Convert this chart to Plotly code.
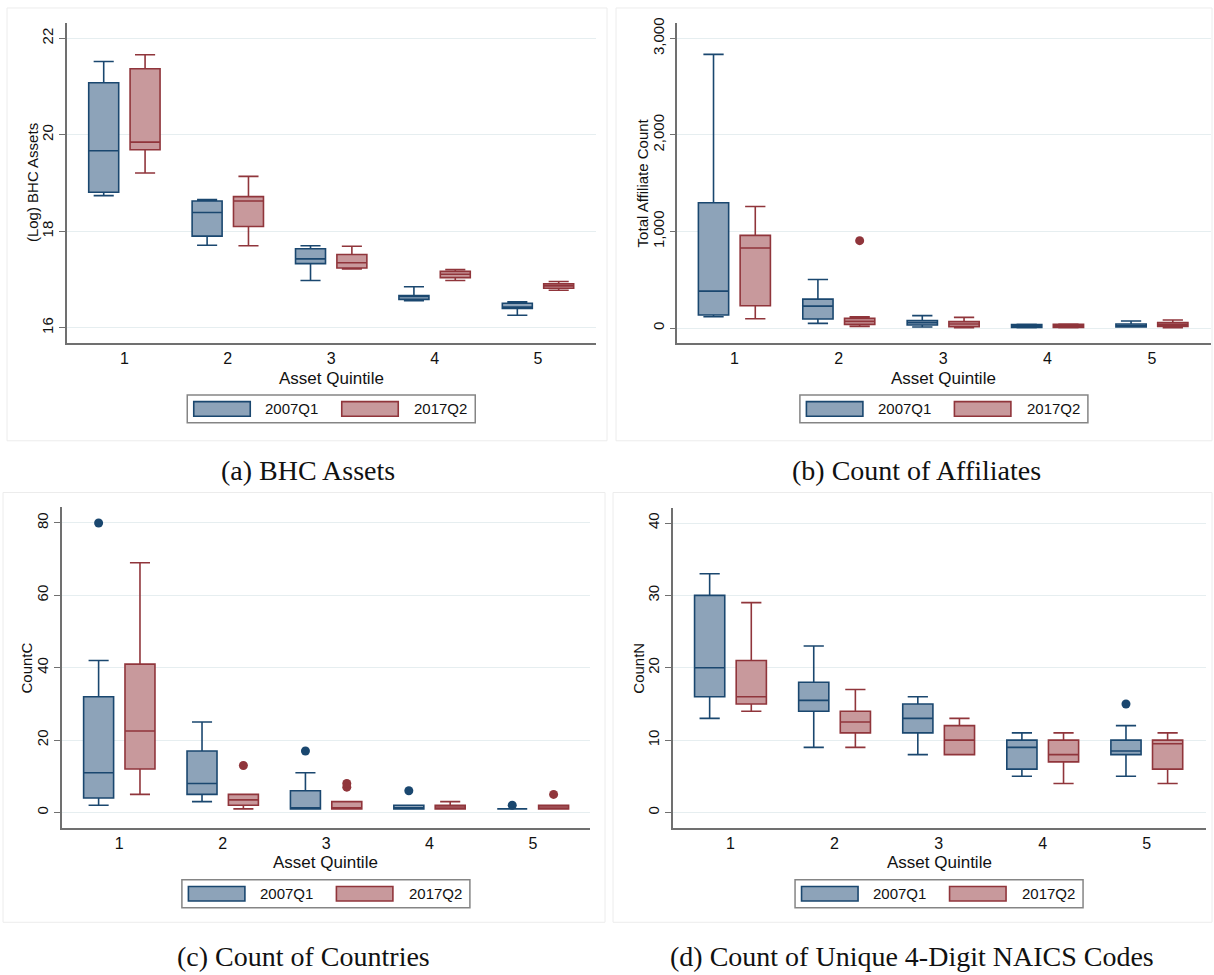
import plotly.graph_objects as go

# ---------------- data ----------------
quintiles = [1, 2, 3, 4, 5]
series_names = ["2007Q1", "2017Q2"]

# (a) (Log) BHC Assets
a07_lo = [18.74, 17.71, 16.98, 16.56, 16.26]
a07_q1 = [18.81, 17.90, 17.33, 16.59, 16.40]
a07_med = [19.67, 18.39, 17.43, 16.65, 16.43]
a07_q3 = [21.08, 18.63, 17.64, 16.67, 16.51]
a07_hi = [21.52, 18.66, 17.70, 16.85, 16.54]
a17_lo = [19.21, 17.70, 17.22, 16.98, 16.78]
a17_q1 = [19.69, 18.10, 17.24, 17.04, 16.82]
a17_med = [19.85, 18.63, 17.35, 17.11, 16.87]
a17_q3 = [21.37, 18.72, 17.52, 17.17, 16.91]
a17_hi = [21.66, 19.14, 17.69, 17.21, 16.96]
a07_out_q, a07_out_v = [], []
a17_out_q, a17_out_v = [], []

# (b) Total Affiliate Count
b07_lo = [117, 48, 10, 3, 10]
b07_q1 = [134, 93, 31, 7, 10]
b07_med = [382, 227, 55, 21, 24]
b07_q3 = [1297, 299, 76, 35, 41]
b07_hi = [2835, 502, 128, 38, 72]
b17_lo = [96, 17, 3, 3, 4]
b17_q1 = [230, 38, 14, 5, 17]
b17_med = [829, 69, 41, 21, 35]
b17_q3 = [960, 100, 66, 38, 56]
b17_hi = [1259, 117, 110, 40, 83]
b07_out_q, b07_out_v = [], []
b17_out_q, b17_out_v = [2], [905]

# (c) CountC
c07_lo = [2, 3, 1, 1, 1]
c07_q1 = [4, 5, 1, 1, 1]
c07_med = [11, 8, 1, 1, 1]
c07_q3 = [32, 17, 6, 2, 1]
c07_hi = [42, 25, 11, 2, 1]
c17_lo = [5, 1, 1, 1, 1]
c17_q1 = [12, 2, 1, 1, 1]
c17_med = [22.5, 3.5, 1, 1.5, 1.5]
c17_q3 = [41, 5, 3, 2, 2]
c17_hi = [69, 5, 3, 3, 2]
c07_out_q, c07_out_v = [1, 3, 4, 5], [80, 17, 6, 2]
c17_out_q, c17_out_v = [2, 3, 3, 5], [13, 7, 8, 5]

# (d) CountN
d07_lo = [13, 9, 8, 5, 5]
d07_q1 = [16, 14, 11, 6, 8]
d07_med = [20, 15.5, 13, 9, 8.5]
d07_q3 = [30, 18, 15, 10, 10]
d07_hi = [33, 23, 16, 11, 12]
d17_lo = [14, 9, 8, 4, 4]
d17_q1 = [15, 11, 8, 7, 6]
d17_med = [16, 12.5, 10, 8, 9.5]
d17_q3 = [21, 14, 12, 10, 10]
d17_hi = [29, 17, 13, 11, 11]
d07_out_q, d07_out_v = [5], [15]
d17_out_q, d17_out_v = [], []

y_titles = ["(Log) BHC Assets", "Total Affiliate Count", "CountC", "CountN"]
y_ticks = [[16, 18, 20, 22], [0, 1000, 2000, 3000], [0, 20, 40, 60, 80], [0, 10, 20, 30, 40]]
x_title = "Asset Quintile"
captions = ["(a) BHC Assets", "(b) Count of Affiliates", "(c) Count of Countries",
            "(d) Count of Unique 4-Digit NAICS Codes"]

# ---------------- styling / layout ----------------
W, H = 1214, 975
LINE = ["#1a476f", "#90353b"]
FILL = ["#8da3b9", "#c8999c"]
GRID = "#e6eef0"
AXC = "#707070"
FONT = "Liberation Sans, Arial, sans-serif"
SERIF = "Liberation Serif, Times New Roman, serif"

def px(x):
    return x / W

def py(y):
    return 1 - y / H

# plot areas in pixels: (left, right, top, bottom), x range, y range
panels = [
    dict(box=(67.0, 595.5, 18.0, 340.0), xr=[0.445, 5.556], yr=[15.68, 22.32],
         s07=(a07_lo, a07_q1, a07_med, a07_q3, a07_hi), s17=(a17_lo, a17_q1, a17_med, a17_q3, a17_hi),
         o07=(a07_out_q, a07_out_v), o17=(a17_out_q, a17_out_v), fmt="", frame=(7, 607, 3, 438),
         cap=(307.5, 468)),
    dict(box=(677.3, 1210.5, 18.0, 340.0), xr=[0.453, 5.561], yr=[-158, 3161],
         s07=(b07_lo, b07_q1, b07_med, b07_q3, b07_hi), s17=(b17_lo, b17_q1, b17_med, b17_q3, b17_hi),
         o07=(b07_out_q, b07_out_v), o17=(b17_out_q, b17_out_v), fmt=",", frame=(616, 1212, 3, 438),
         cap=(916.5, 468)),
    dict(box=(61.8, 590.0, 505.0, 827.3), xr=[0.444, 5.552], yr=[-4.3, 84.3],
         s07=(c07_lo, c07_q1, c07_med, c07_q3, c07_hi), s17=(c17_lo, c17_q1, c17_med, c17_q3, c17_hi),
         o07=(c07_out_q, c07_out_v), o17=(c17_out_q, c17_out_v), fmt="", frame=(3, 605, 490, 922),
         cap=(303, 956)),
    dict(box=(672.6, 1205.5, 505.7, 827.3), xr=[0.444, 5.564], yr=[-2.15, 42.06],
         s07=(d07_lo, d07_q1, d07_med, d07_q3, d07_hi), s17=(d17_lo, d17_q1, d17_med, d17_q3, d17_hi),
         o07=(d07_out_q, d07_out_v), o17=(d17_out_q, d17_out_v), fmt="", frame=(613, 1212, 490, 922),
         cap=(911.5, 956)),
]

OFFSET = 0.2
BOXW = 0.29

fig = go.Figure()
layout = dict(width=W, height=H, margin=dict(l=0, r=0, t=0, b=0),
              paper_bgcolor="white", plot_bgcolor="white", showlegend=False,
              boxmode="overlay", font=dict(family=FONT, color="#111111"))
shapes, annotations = [], []

for i, p in enumerate(panels):
    k = "" if i == 0 else str(i + 1)
    xa, ya = "x" + k, "y" + k
    l, r, t, b = p["box"]
    for j, (stats, outs) in enumerate([(p["s07"], p["o07"]), (p["s17"], p["o17"])]):
        lo, q1, med, q3, hi = stats
        sign = -1 if j == 0 else 1
        xpos = [q + sign * OFFSET for q in quintiles]
        fig.add_trace(go.Box(
            x=xpos, lowerfence=lo, q1=q1, median=med, q3=q3, upperfence=hi,
            width=BOXW, whiskerwidth=0.67, boxpoints=False,
            fillcolor=FILL[j], line=dict(color=LINE[j], width=1.6),
            name=series_names[j], xaxis=xa, yaxis=ya, hoverinfo="skip"))
        oq, ov = outs
        if oq:
            fig.add_trace(go.Scatter(
                x=[q + sign * OFFSET for q in oq], y=ov, mode="markers",
                marker=dict(color=LINE[j], size=9, line=dict(width=0)),
                xaxis=xa, yaxis=ya, hoverinfo="skip"))
    layout["xaxis" + k] = dict(
        domain=[px(l), px(r)], range=p["xr"], anchor=ya,
        tickvals=quintiles, ticktext=[str(q) for q in quintiles], ticks="",
        showgrid=False, zeroline=False, showline=True, linecolor=AXC, linewidth=1.5,
        tickfont=dict(size=16, family=FONT, color="#111111"), fixedrange=True)
    layout["yaxis" + k] = dict(
        domain=[py(b), py(t)], range=p["yr"], anchor=xa,
        tickvals=y_ticks[i], tickformat=p["fmt"] if p["fmt"] else None, tickangle=-90,
        ticks="outside", ticklen=6, tickwidth=1.3, tickcolor=AXC,
        showgrid=True, gridcolor=GRID, gridwidth=1.2, zeroline=False,
        showline=True, linecolor=AXC, linewidth=1.5,
        tickfont=dict(size=15, family=FONT, color="#111111"), fixedrange=True)

    # panel frame
    fl, fr, ft, fb = p["frame"]
    shapes.append(dict(type="rect", xref="paper", yref="paper",
                       x0=px(fl), x1=px(fr), y0=py(fb), y1=py(ft),
                       line=dict(color="#ececec", width=1), fillcolor="rgba(0,0,0,0)", layer="below"))
    cx = (l + r) / 2
    # x title
    annotations.append(dict(text=x_title, xref="paper", yref="paper", x=px(cx), y=py(b + 35),
                            showarrow=False, xanchor="center", yanchor="middle",
                            font=dict(size=17, family=FONT, color="#111111")))
    # y title
    annotations.append(dict(text=y_titles[i], xref="paper", yref="paper", x=px(l - 35), y=py((t + b) / 2),
                            showarrow=False, textangle=-90, xanchor="center", yanchor="middle",
                            font=dict(size=15, family=FONT, color="#111111")))
    # legend
    L = cx - 144
    lt = b + 52
    lb = lt + 28
    lm = (lt + lb) / 2
    shapes.append(dict(type="rect", xref="paper", yref="paper", x0=px(L), x1=px(L + 288),
                       y0=py(lb), y1=py(lt), line=dict(color="#858585", width=1.5),
                       fillcolor="white"))
    for j, (s0, s1, tx) in enumerate([(6.5, 63, 76), (154.5, 211, 225)]):
        shapes.append(dict(type="rect", xref="paper", yref="paper", x0=px(L + s0), x1=px(L + s1),
                           y0=py(lm + 7.3), y1=py(lm - 7.3), line=dict(color=LINE[j], width=1.6),
                           fillcolor=FILL[j]))
        annotations.append(dict(text=series_names[j], xref="paper", yref="paper", x=px(L + tx),
                                y=py(lm), showarrow=False, xanchor="left", yanchor="middle",
                                font=dict(size=15, family=FONT, color="#111111")))
    # caption
    cxp, cyp = p["cap"]
    annotations.append(dict(text=captions[i], xref="paper", yref="paper", x=px(cxp), y=py(cyp),
                            showarrow=False, xanchor="center", yanchor="middle",
                            font=dict(size=28, family=SERIF, color="#111111")))

layout["shapes"] = shapes
layout["annotations"] = annotations
fig.update_layout(**layout)
fig.write_html("out.html", config={"displayModeBar": False},
               post_script="document.body.style.margin='0';document.body.style.padding='0';")
